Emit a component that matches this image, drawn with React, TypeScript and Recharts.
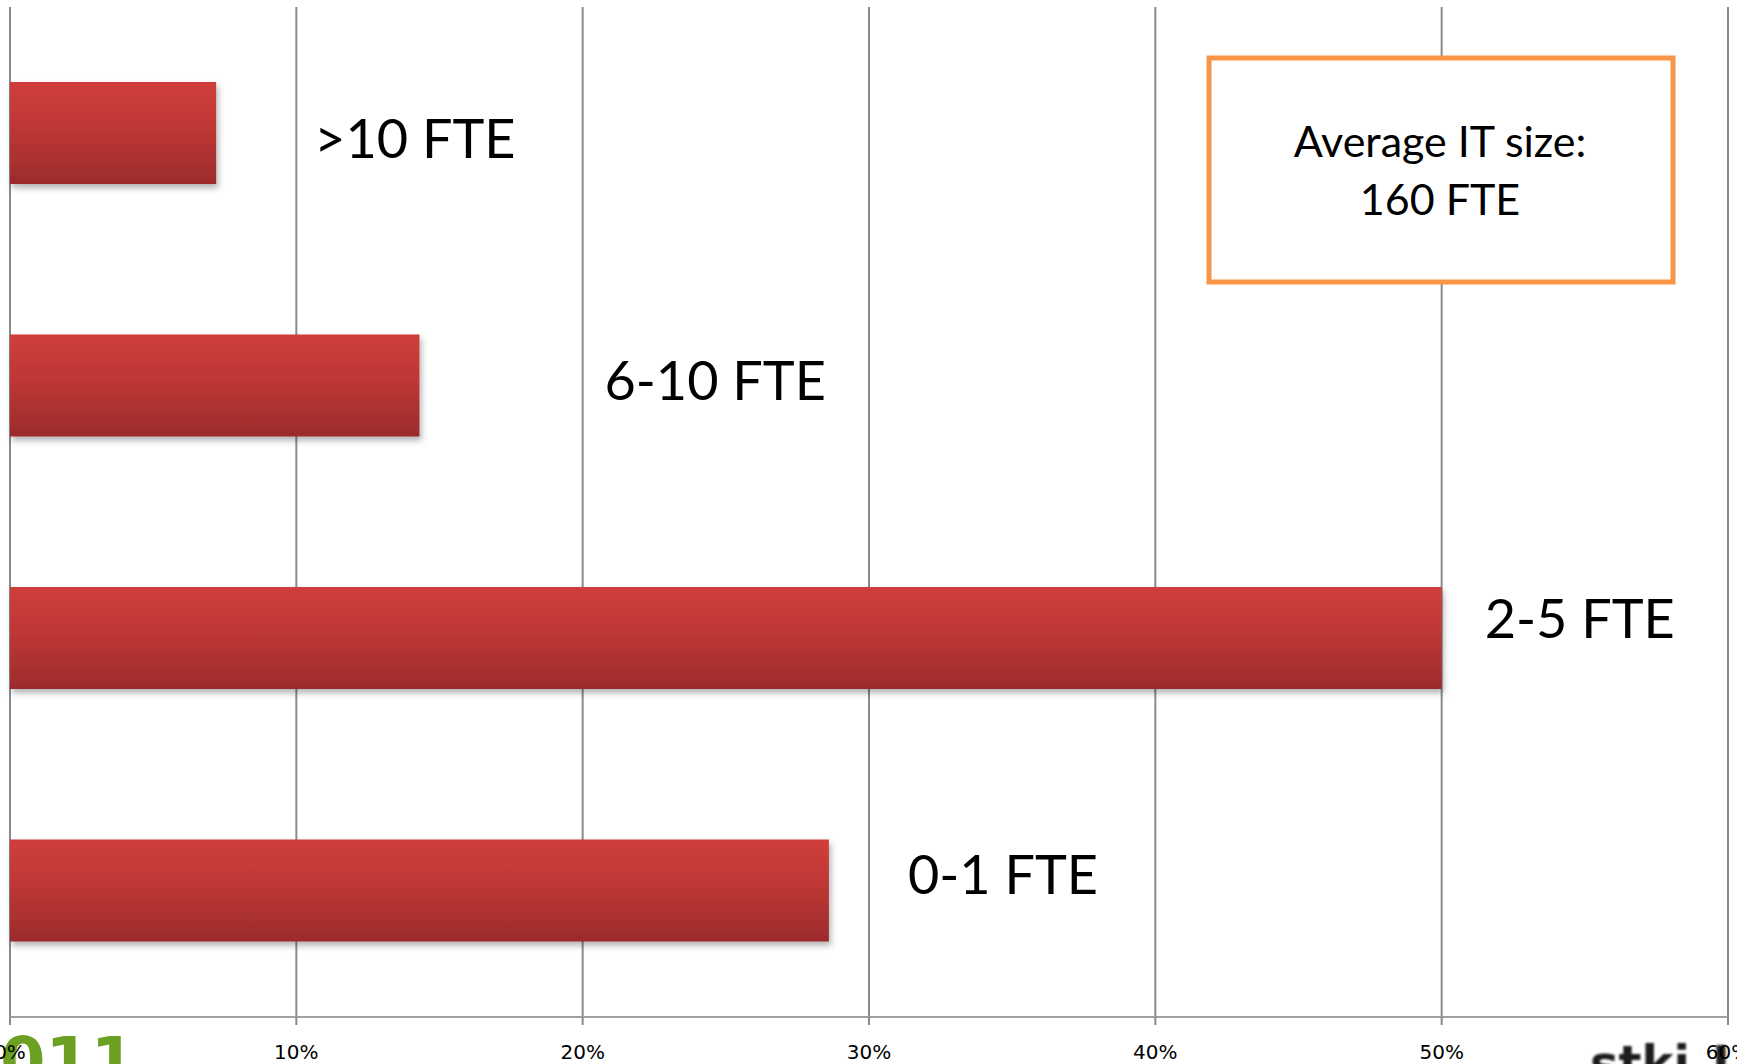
import { BarChart, Bar, XAxis, YAxis, CartesianGrid } from 'recharts'

// categories, top to bottom as in the picture
const categories = ['>10 FTE', '6-10 FTE', '2-5 FTE', '0-1 FTE']
const shares = [7.2, 14.3, 50, 28.6]
const xTicks = [0, 10, 20, 30, 40, 50, 60]
const noteLines = ['Average IT size:', '160 FTE']

// hand placed category labels, offset from the bar end / bar centre
const LABEL_DX = [98, 185, 43, 79]
const LABEL_DY = [6, -5, -19, -16]

const W = 1737
const H = 1064

const data = categories.map((name, i) => ({ name, value: shares[i] }))

function BarShape(props: any) {
  const { x, y, width, height, payload } = props
  const i = props.index ?? categories.indexOf(payload.name)
  const cy = y + height / 2
  return (
    <g>
      <rect x={x} y={y} width={width} height={height} fill="url(#barFill)" filter="url(#barShadow)" />
      <text
        x={x + width + LABEL_DX[i]}
        y={cy + LABEL_DY[i] + 19}
        fontSize={54}
        fontFamily="Lato, 'Open Sans', sans-serif"
        fill="#000"
      >
        {payload.name}
      </text>
    </g>
  )
}

export default function App() {
  return (
    <div style={{ position: 'relative', width: W, height: H, background: '#fff', overflow: 'hidden' }}>
      <style>{'body{margin:0}'}</style>

      {/* logos peeking in at the bottom, behind the axis labels */}
      <svg width={W} height={H} style={{ position: 'absolute', left: 0, top: 0 }}>
        <defs>
          <linearGradient id="barFill" x1="0" y1="0" x2="0" y2="1">
            <stop offset="0%" stopColor="#CF3E3B" />
            <stop offset="45%" stopColor="#BE3735" />
            <stop offset="100%" stopColor="#9C2B2C" />
          </linearGradient>
          <filter id="barShadow" x="-5%" y="-20%" width="115%" height="150%">
            <feDropShadow dx="2" dy="4" stdDeviation="3" floodColor="#000" floodOpacity="0.3" />
          </filter>
          <filter id="soft">
            <feGaussianBlur stdDeviation="0.8" />
          </filter>
        </defs>
        <text x={-45} y={1084} fontSize={65} fontWeight="bold" fontFamily="'DejaVu Sans'" fill="#6BA023">
          2011
        </text>
        <g filter="url(#soft)" fill="#1c1c1c" fontWeight="bold" fontFamily="'DejaVu Sans'" fontSize={48}>
          <text x={1590} y={1080}>stki</text>
          <text x={1712} y={1080}>I</text>
        </g>
      </svg>

      <div style={{ position: 'absolute', left: 0, top: 0 }}>
        <BarChart
          width={W}
          height={H}
          data={data}
          layout="vertical"
          margin={{ top: 7, right: 9, left: 10, bottom: 0 }}
        >
          <CartesianGrid horizontal={false} stroke="#8a8a8a" strokeWidth={2} />
          <XAxis
            type="number"
            domain={[0, 60]}
            ticks={xTicks}
            interval={0}
            tickFormatter={(v) => `${v}%`}
            height={47}
            tickSize={8}
            tickMargin={20}
            axisLine={{ stroke: '#a0a0a0', strokeWidth: 2 }}
            tickLine={{ stroke: '#8a8a8a', strokeWidth: 2 }}
            tick={{ fill: '#000', fontSize: 20, fontFamily: "'DejaVu Sans'" }}
          />
          <YAxis type="category" dataKey="name" hide width={0} />
          <Bar dataKey="value" barSize={102} shape={BarShape} isAnimationActive={false} />
        </BarChart>
      </div>

      {/* the note box, drawn over the grid */}
      <svg width={W} height={H} style={{ position: 'absolute', left: 0, top: 0, pointerEvents: 'none' }}>
        <rect x={1209} y={58} width={464} height={224} fill="#fff" stroke="#F79646" strokeWidth={5} />
        {noteLines.map((line, i) => (
          <text
            key={line}
            x={1440}
            y={157 + i * 58}
            textAnchor="middle"
            fontSize={43}
            fontFamily="Lato, 'Open Sans', sans-serif"
            fill="#000"
          >
            {line}
          </text>
        ))}
      </svg>
    </div>
  )
}
